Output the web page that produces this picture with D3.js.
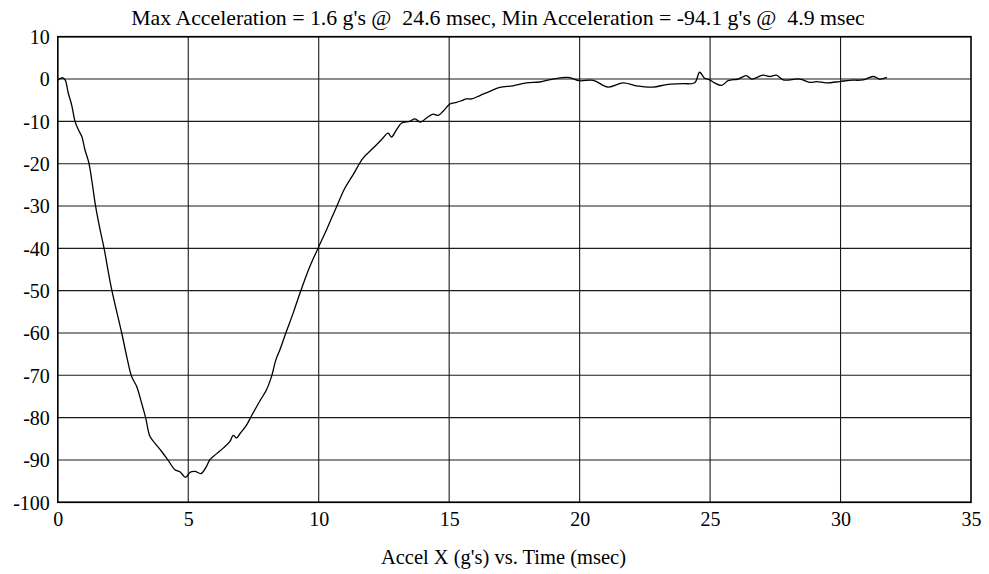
<!DOCTYPE html>
<html>
<head>
<meta charset="utf-8">
<script src="https://cdn.jsdelivr.net/npm/d3@7/dist/d3.min.js"></script>
<style>
  html, body { margin: 0; padding: 0; background: #fff; }
  svg { display: block; }
</style>
</head>
<body>
<svg id="chart" width="989" height="574"></svg>
<script>
// Accelerometer trace, X axis (time in ms, acceleration in g)
const timeMs = [
  0.00, 0.17, 0.28, 0.40, 0.53, 0.66, 0.79, 0.92, 1.04, 1.19, 1.30, 1.45, 1.62, 1.77,
  2.06, 2.45, 2.64, 2.83, 3.02, 3.21, 3.37, 3.53, 3.72, 3.98, 4.23, 4.49, 4.68, 4.90,
  5.07, 5.26, 5.49, 5.70, 5.83, 6.09, 6.34, 6.60, 6.72, 6.85, 6.98, 7.24, 7.43, 7.75,
  8.00, 8.19, 8.36, 8.51, 8.74, 9.02, 9.28, 9.66, 9.98, 10.30, 10.69, 11.00, 11.32,
  11.70, 12.09, 12.41, 12.66, 12.79, 12.98, 13.18, 13.49, 13.69, 13.90, 14.13, 14.39,
  14.58, 14.77, 15.03, 15.28, 15.48, 15.67, 15.86, 16.18, 16.56, 16.94, 17.45, 17.97,
  18.47, 18.98, 19.56, 20.00, 20.52, 21.09, 21.67, 22.18, 22.82, 23.33, 23.97, 24.41,
  24.60, 24.79, 24.98, 25.17, 25.44, 25.69, 26.07, 26.39, 26.59, 27.03, 27.29, 27.54,
  27.80, 28.44, 28.82, 29.08, 29.46, 29.97, 30.35, 30.86, 31.25, 31.50, 31.78
];
const accelG = [
  -0.3, 0.3, -0.2, -3.3, -6.1, -10.0, -12.0, -13.6, -16.7, -19.8, -23.8, -30.1, -35.6, -39.9,
  -49.6, -60.0, -65.5, -70.3, -72.6, -76.5, -80.1, -84.4, -86.0, -88.0, -90.1, -92.3, -92.8, -94.1,
  -92.9, -92.7, -93.2, -91.5, -89.9, -88.5, -87.2, -85.6, -84.2, -84.8, -83.8, -81.7, -79.5, -76.0,
  -73.4, -70.3, -66.3, -64.0, -60.0, -55.3, -50.6, -44.3, -39.9, -35.6, -30.1, -25.8, -22.6,
  -18.7, -16.3, -14.3, -12.8, -13.7, -12.0, -10.4, -10.0, -9.4, -10.2, -9.2, -8.3,
  -8.6, -7.6, -5.9, -5.5, -5.1, -4.7, -4.7, -3.9, -2.9, -2.0, -1.6, -0.9,
  -0.7, 0.0, 0.4, -0.4, -0.3, -1.9, -0.9, -1.6, -1.9, -1.3, -1.1, -0.9,
  1.6, 0.2, -0.2, -0.9, -1.5, -0.4, 0.0, 0.8, 0.0, 0.9, 0.6, 0.9,
  -0.2, 0.0, -0.8, -0.6, -0.9, -0.6, -0.3, -0.2, 0.6, 0.0, 0.4
];

const xTicks = [0, 5, 10, 15, 20, 25, 30, 35];
const yTicks = [10, 0, -10, -20, -30, -40, -50, -60, -70, -80, -90, -100];

const titleText = "Max Acceleration = 1.6 g's @\u00A0\u00A024.6 msec, Min Acceleration = -94.1 g's @\u00A0\u00A04.9 msec";
const xTitle = "Accel X (g's) vs. Time (msec)";

const FONT = "'Liberation Serif', 'Times New Roman', serif";
const svg = d3.select("#chart");
const plotL = 57.8, plotR = 971, plotT = 36.7, plotB = 502.3;

const x = d3.scaleLinear().domain([0, 35]).range([plotL, plotR]);
const y = d3.scaleLinear().domain([-100, 10]).range([plotB, plotT]);
const fmt = d => String(d); // plain hyphen-minus

// grid
const grid = svg.append("g").attr("stroke", "#1a1a1a").attr("stroke-width", 1.1);
grid.selectAll("line.h").data(yTicks).join("line")
  .attr("class", "h")
  .attr("x1", plotL).attr("x2", plotR)
  .attr("y1", d => y(d)).attr("y2", d => y(d));
grid.selectAll("line.v").data(xTicks.slice(1, -1)).join("line")
  .attr("class", "v")
  .attr("y1", plotT).attr("y2", plotB)
  .attr("x1", d => x(d)).attr("x2", d => x(d));

// frame
svg.append("rect")
  .attr("x", plotL).attr("y", plotT)
  .attr("width", plotR - plotL).attr("height", plotB - plotT)
  .attr("fill", "none").attr("stroke", "#000").attr("stroke-width", 1.6);

// tick labels
const xAxis = svg.append("g")
  .attr("transform", `translate(0,${plotB})`)
  .call(d3.axisBottom(x).tickValues(xTicks).tickSize(0).tickPadding(24).tickFormat(fmt));
xAxis.select(".domain").remove();
xAxis.attr("font-family", null).attr("font-size", null);
xAxis.selectAll("text").style("font-family", FONT).style("font-size", "20px").attr("fill", "#000").attr("dy", 0);

const yAxis = svg.append("g")
  .attr("transform", `translate(${plotL},0)`)
  .call(d3.axisLeft(y).tickValues(yTicks).tickSize(0).tickPadding(8).tickFormat(fmt));
yAxis.select(".domain").remove();
yAxis.attr("font-family", null).attr("font-size", null);
yAxis.selectAll("text").style("font-family", FONT).style("font-size", "20px").attr("fill", "#000").attr("dy", "0.34em");

// data trace
const line = d3.line()
  .x((d, i) => x(timeMs[i]))
  .y(d => y(d))
  .curve(d3.curveCatmullRom.alpha(0.5));
svg.append("path")
  .datum(accelG)
  .attr("d", line)
  .attr("fill", "none")
  .attr("stroke", "#000")
  .attr("stroke-width", 1.3)
  .attr("stroke-linejoin", "round");

// titles
svg.append("text")
  .attr("x", 498).attr("y", 25)
  .attr("text-anchor", "middle")
  .style("font-family", FONT).style("font-size", "21.8px")
  .text(titleText);
svg.append("text")
  .attr("x", 626).attr("y", 564)
  .attr("text-anchor", "end")
  .style("font-family", FONT).style("font-size", "20.5px")
  .text(xTitle);
</script>
</body>
</html>
